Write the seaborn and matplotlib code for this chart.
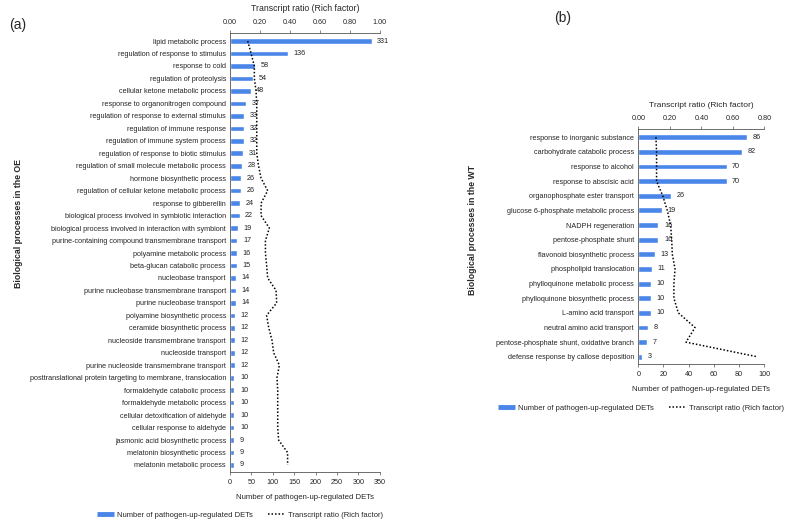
import matplotlib
matplotlib.use("Agg")
import matplotlib.pyplot as plt
import numpy as np
import pandas as pd
import seaborn as sns
from matplotlib.lines import Line2D

sns.set_style("white")
plt.rcParams["font.family"] = ["Liberation Sans", "DejaVu Sans"]

BAR_COLOR = "#4a86e8"

# panel (a): OE
oe_terms = [
    "lipid metabolic process",
    "regulation of response to stimulus",
    "response to cold",
    "regulation of proteolysis",
    "cellular ketone metabolic process",
    "response to organonitrogen compound",
    "regulation of response to external stimulus",
    "regulation of immune response",
    "regulation of immune system process",
    "regulation of response to biotic stimulus",
    "regulation of small molecule metabolic process",
    "hormone biosynthetic process",
    "regulation of cellular ketone metabolic process",
    "response to gibberellin",
    "biological process involved in symbiotic interaction",
    "biological process involved in interaction with symbiont",
    "purine-containing compound transmembrane transport",
    "polyamine metabolic process",
    "beta-glucan catabolic process",
    "nucleobase transport",
    "purine nucleobase transmembrane transport",
    "purine nucleobase transport",
    "polyamine biosynthetic process",
    "ceramide biosynthetic process",
    "nucleoside transmembrane transport",
    "nucleoside transport",
    "purine nucleoside transmembrane transport",
    "posttranslational protein targeting to membrane, translocation",
    "formaldehyde catabolic process",
    "formaldehyde metabolic process",
    "cellular detoxification of aldehyde",
    "cellular response to aldehyde",
    "jasmonic acid biosynthetic process",
    "melatonin biosynthetic process",
    "melatonin metabolic process",
]
oe_counts = [331, 136, 58, 54, 48, 37, 33, 32, 32, 31, 28, 26, 26, 24, 22, 19, 17, 16,
             15, 14, 14, 14, 12, 12, 12, 12, 12, 10, 10, 10, 10, 10, 9, 9, 9]
oe_ratio = [0.118, 0.140, 0.162, 0.162, 0.173, 0.178, 0.178, 0.178, 0.178, 0.178,
            0.190, 0.207, 0.251, 0.207, 0.207, 0.262, 0.236, 0.236, 0.244, 0.251,
            0.307, 0.311, 0.244, 0.258, 0.280, 0.291, 0.329, 0.313, 0.318, 0.318,
            0.318, 0.318, 0.324, 0.384, 0.384]
oe_count_ticks = [0, 50, 100, 150, 200, 250, 300, 350]
oe_ratio_ticks = [0, 0.2, 0.4, 0.6, 0.8, 1.0]

# panel (b): WT
wt_terms = [
    "response to inorganic substance",
    "carbohydrate catabolic process",
    "response to alcohol",
    "response to abscisic acid",
    "organophosphate ester transport",
    "glucose 6-phosphate metabolic process",
    "NADPH regeneration",
    "pentose-phosphate shunt",
    "flavonoid biosynthetic process",
    "phospholipid translocation",
    "phylloquinone metabolic process",
    "phylloquinone biosynthetic process",
    "L-amino acid transport",
    "neutral amino acid transport",
    "pentose-phosphate shunt, oxidative branch",
    "defense response by callose deposition",
]
wt_counts = [86, 82, 70, 70, 26, 19, 16, 16, 13, 11, 10, 10, 10, 8, 7, 3]
wt_ratio = [0.112, 0.116, 0.116, 0.116, 0.155, 0.184, 0.205, 0.212, 0.216, 0.233,
            0.226, 0.226, 0.254, 0.360, 0.303, 0.756]
wt_count_ticks = [0, 20, 40, 60, 80, 100]
wt_ratio_ticks = [0, 0.2, 0.4, 0.6, 0.8]

FS = 5.2
DOTS = (0, (1, 1.3))


def draw_panel(fig, rect, terms, counts, ratio, cticks, rticks, bar_w, ylim, title_fs):
    df = pd.DataFrame({"term": terms, "count": counts, "ratio": ratio})
    ax = fig.add_axes(rect)
    sns.barplot(data=df, y="term", x="count", color=BAR_COLOR, width=bar_w,
                saturation=1, ax=ax)
    ax.bar_label(ax.containers[0], padding=4, fontsize=FS, color="#222222")
    ax.set_xlim(cticks[0], cticks[-1])
    ax.set_xticks(cticks)
    ax.set_ylim(*ylim)
    ax.set_ylabel("")
    ax.set_xlabel("Number of pathogen-up-regulated DETs", fontsize=5.6, labelpad=6)
    ax.tick_params(axis="y", length=0, labelsize=FS, pad=3)
    ax.tick_params(axis="x", length=2, width=0.5, labelsize=FS, pad=3, color="#555555")
    for side in ["right", "top"]:
        ax.spines[side].set_visible(False)
    for side in ["left", "bottom"]:
        ax.spines[side].set_linewidth(0.6)
        ax.spines[side].set_color("#555555")

    ax2 = ax.twiny()
    ax2.plot(df["ratio"], np.arange(len(df)), color="black", lw=1.1, linestyle=DOTS)
    ax2.set_xlim(rticks[0], rticks[-1])
    ax2.set_xticks(rticks)
    ax2.set_xticklabels([f"{t:.2f}" for t in rticks])
    ax2.set_ylim(*ylim)
    ax2.set_xlabel("Transcript ratio (Rich factor)", fontsize=title_fs, labelpad=6)
    ax2.tick_params(axis="x", length=2, width=0.5, labelsize=FS, pad=3, color="#555555")
    for side in ["right", "bottom", "left"]:
        ax2.spines[side].set_visible(False)
    ax2.spines["top"].set_linewidth(0.6)
    ax2.spines["top"].set_color("#555555")
    return ax


fig = plt.figure(figsize=(7.88, 5.25), dpi=100)

n_a = len(oe_terms)
draw_panel(fig, [0.292, 0.101, 0.190, 0.836], oe_terms, oe_counts, oe_ratio,
           oe_count_ticks, oe_ratio_ticks, 0.45, (n_a - 1 + 0.56, -0.64), 6.3)
n_b = len(wt_terms)
draw_panel(fig, [0.810, 0.307, 0.160, 0.447], wt_terms, wt_counts, wt_ratio,
           wt_count_ticks, wt_ratio_ticks, 0.4, (n_b - 1 + 0.48, -0.55), 6.0)

fig.text(0.024, 0.575, "Biological processes in the OE", rotation=90, fontsize=6.3,
         fontweight="bold", ha="center", va="center")
fig.text(0.600, 0.562, "Biological processes in the WT", rotation=90, fontsize=6.3,
         fontweight="bold", ha="center", va="center")
fig.text(0.012, 0.952, "(a)", fontsize=10, ha="left", va="center")
fig.text(0.703, 0.965, "(b)", fontsize=10, ha="left", va="center")

handles = [Line2D([], [], color=BAR_COLOR, lw=3.5, solid_capstyle="butt"),
           Line2D([], [], color="black", lw=1.1, linestyle=DOTS)]
labels = ["Number of pathogen-up-regulated DETs", "Transcript ratio (Rich factor)"]
for x, y in [(0.305, 0.019), (0.813, 0.223)]:
    fig.legend(handles, labels, loc="center", bbox_to_anchor=(x, y), ncol=2,
               frameon=False, fontsize=5.5, handlelength=2.2, handletextpad=0.4,
               columnspacing=2.0)

fig.savefig("out.png", dpi=100)
